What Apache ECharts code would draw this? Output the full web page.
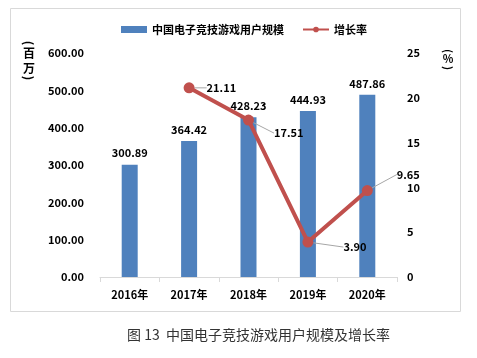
<!DOCTYPE html>
<html><head><meta charset="utf-8">
<script src="https://cdn.jsdelivr.net/npm/echarts@6/dist/echarts.min.js"></script>
<style>html,body{margin:0;padding:0;background:#fff}#c{width:477px;height:358px}</style>
</head><body><div id="c"></div>
<script>
var categories = ['2016年','2017年','2018年','2019年','2020年'];
var users = [300.89, 364.42, 428.23, 444.93, 487.86];
var growth = [null, 21.11, 17.51, 3.90, 9.65];
var leftTicks = {min:0, max:600, interval:100};
var rightTicks = {min:0, max:25, interval:5};

var FONT = '"Noto Sans CJK SC", "Noto Sans", sans-serif';
var chart = echarts.init(document.getElementById('c'));
var lineLabelCfg = [
  null,
  {dx:6, dy:0},
  {dx:14, dy:13},
  {dx:24, dy:5},
  {dx:18, dy:-16}
];
function ch(t, x, y, size, rot){
  return {type:'text', x:x, y:y, rotation:rot||0, style:{text:t, font:'bold '+size+'px '+FONT, fill:'#000', align:'center', verticalAlign:'middle'}};
}
var R = -Math.PI/2;
chart.setOption({
  animation:false,
  textStyle:{fontFamily:FONT},
  graphic:[
    {type:'rect', shape:{x:10.5,y:8.5,width:450,height:303}, style:{fill:'none',stroke:'#D9D9D9',lineWidth:1}, silent:true},
    {type:'text', x:127, y:328, style:{text:'图 13  中国电子竞技游戏用户规模及增长率', font:'14px '+FONT, fill:'#333'}},
    ch('(', 29, 43, 12, R), ch('百', 29, 53, 12), ch('万', 29, 68, 12), ch(')', 29, 78, 12, R),
    ch('(', 448, 51, 11, R), ch('%', 448, 59, 11), ch(')', 448, 68, 11, R)
  ],
  legend:{
    top:19, left:116, itemGap:18,
    textStyle:{fontFamily:FONT, fontWeight:'bold', fontSize:11, color:'#000'},
    data:[
      {name:'中国电子竞技游戏用户规模', icon:'rect', itemStyle:{color:'#4F81BD'}},
      {name:'增长率'}
    ],
    itemWidth:26, itemHeight:7
  },
  grid:{left:100, right:80, top:53, bottom:81},
  xAxis:{
    type:'category', data:categories,
    axisLine:{lineStyle:{color:'#D9D9D9'}},
    axisTick:{show:true, length:5, lineStyle:{color:'#D9D9D9'}},
    axisLabel:{color:'#000', fontWeight:'bold', fontSize:11, margin:12, fontFamily:FONT}
  },
  yAxis:[
    {type:'value', min:leftTicks.min, max:leftTicks.max, interval:leftTicks.interval,
     splitLine:{show:false}, axisLine:{show:false}, axisTick:{show:false},
     axisLabel:{color:'#000', fontWeight:'bold', fontSize:11, margin:16, fontFamily:FONT, formatter:function(v){return v.toFixed(2);}}},
    {type:'value', min:rightTicks.min, max:rightTicks.max, interval:rightTicks.interval,
     splitLine:{show:false}, axisLine:{show:false}, axisTick:{show:false},
     axisLabel:{color:'#000', fontWeight:'bold', fontSize:11, margin:10, fontFamily:FONT}}
  ],
  series:[
    {name:'中国电子竞技游戏用户规模', type:'bar', data:users, barWidth:16,
     itemStyle:{color:'#4F81BD'},
     label:{show:true, position:'top', distance:6, color:'#000', fontWeight:'bold', fontSize:11, fontFamily:FONT,
       formatter:function(p){return p.value.toFixed(2);}}},
    {name:'增长率', type:'line', yAxisIndex:1, data:growth,
     symbol:'circle', symbolSize:11, lineStyle:{color:'#C0504D', width:4}, itemStyle:{color:'#C0504D'},
     label:{show:true, position:'right', distance:6, color:'#000', fontWeight:'bold', fontSize:11, fontFamily:FONT,
       formatter:function(p){return p.value==null?'':p.value.toFixed(2);}},
     labelLine:{show:true, lineStyle:{color:'#A6A6A6', width:1}},
     labelLayout:function(params){
       var c = lineLabelCfg[params.dataIndex];
       if(!c) return {};
       return {dx:c.dx, dy:c.dy};
     }
    }
  ]
});
</script></body></html>
